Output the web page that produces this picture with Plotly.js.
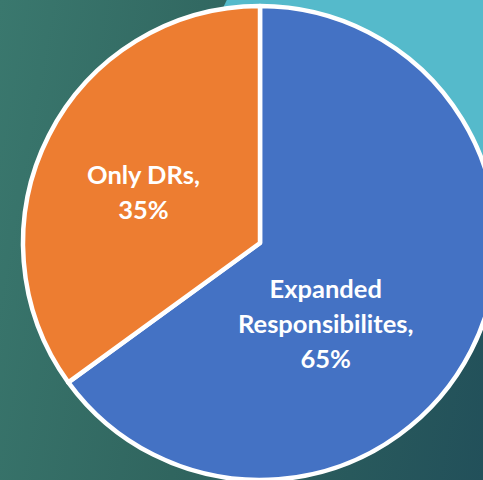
<!DOCTYPE html>
<html>
<head>
<meta charset="utf-8">
<script src="https://cdn.plot.ly/plotly-3.0.1.min.js"></script>
<style>
  html, body { margin: 0; padding: 0; width: 483px; height: 480px; overflow: hidden; }
  body { background: linear-gradient(100deg, #3a786e 0%, #30655f 45%, #22505a 100%); }
  #chart { width: 500px; height: 485px; }
</style>
</head>
<body>
<div id="chart"></div>
<script>
const categories = ["Expanded<br>Responsibilites", "Only DRs"];
const values = [65, 35];
const colors = ["#4472C4", "#ED7D31"];
// label anchor positions (paper coords) for the data labels
const labelX = [0.652, 0.286];
const labelY = [0.334, 0.606];

const total = values.reduce((a, b) => a + b, 0);

const trace = {
  type: "pie",
  labels: categories,
  values: values,
  sort: false,
  direction: "clockwise",
  rotation: 0,
  marker: { colors: colors, line: { color: "#FFFFFF", width: 4.5 } },
  textinfo: "none",
  hoverinfo: "none",
  showlegend: false,
  domain: { x: [0.046, 0.994], y: [0.0103, 0.9876] }
};

const span = s => "<span style='font-size:25.5px'>" + s + "</span>";
const annotations = categories.map((c, i) => ({
  xref: "paper", yref: "paper",
  x: labelX[i], y: labelY[i],
  xanchor: "center", yanchor: "middle",
  showarrow: false,
  align: "center",
  text: c.split("<br>").map((s, k, arr) => span(s + (k === arr.length - 1 ? "," : ""))).join("<br>") +
        "<br>" + span(Math.round(values[i] / total * 100) + "%"),
  font: { family: "Lato, 'Open Sans', sans-serif", size: 27, color: "#FFFFFF", weight: "bold" }
}));

const layout = {
  width: 500,
  height: 485,
  margin: { l: 0, r: 0, t: 0, b: 0 },
  paper_bgcolor: "rgba(0,0,0,0)",
  plot_bgcolor: "rgba(0,0,0,0)",
  showlegend: false,
  annotations: annotations,
  shapes: [{
    type: "circle", xref: "paper", yref: "paper", layer: "below",
    x0: 0.405, x1: 1.325, y0: 0.3138, y1: 1.262,
    fillcolor: "#55BACB", line: { width: 0 }
  }]
};

Plotly.newPlot("chart", [trace], layout, { displayModeBar: false, staticPlot: true });
</script>
</body>
</html>
